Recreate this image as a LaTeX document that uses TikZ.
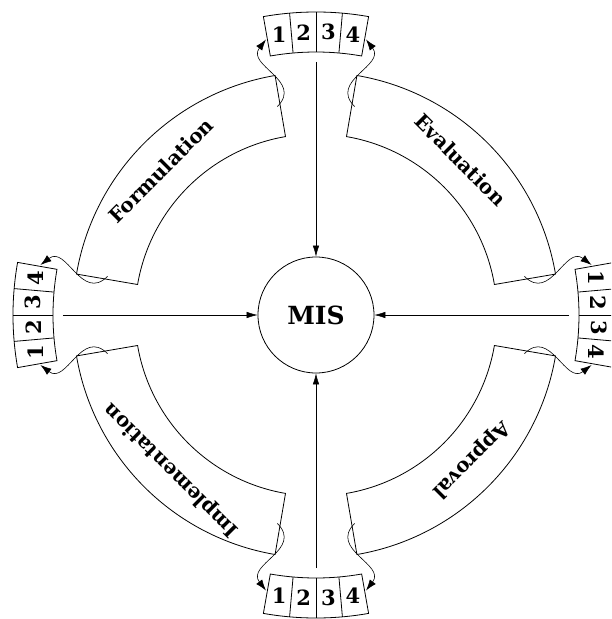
\documentclass[tikz,border=0pt]{standalone}
\usepackage{fontspec}
\setmainfont{DejaVu Serif}
\usetikzlibrary{arrows.meta}
\begin{document}
\begin{tikzpicture}[x=1pt,y=1pt,
  outline/.style={draw=black, line width=0.8pt},
  feed/.style={draw=black, line width=0.6pt, -{Latex[length=11pt,width=7.5pt]}},
  spoke/.style={draw=black, line width=0.5pt, -{Latex[length=11pt,width=6.5pt]}},
  digit/.style={font=\fontsize{21}{21}\selectfont\bfseries, inner sep=0pt},
  bandlabel/.style={font=\fontsize{20}{20}\selectfont\bfseries, inner sep=0pt},
]
\useasboundingbox (-316,-304) rectangle (295,315);
\clip (-316,-304) rectangle (295,315);

% centre
\node[circle, draw, line width=0.8pt, minimum size=116pt, inner sep=0pt,
      font=\fontsize{25}{25}\selectfont\bfseries] (mis) at (0,0) {MIS};

% bands
\foreach \a in {135,45,-45,-135} {
  \draw[outline] ({\a-35.3}:181pt) arc[start angle={\a-35.3}, end angle={\a+35.3}, radius=181pt]
     -- ({\a+35.3}:243pt) arc[start angle={\a+35.3}, end angle={\a-35.3}, radius=243pt] -- cycle;
}
\node[bandlabel, rotate=45]   (form) at (137:212pt) {Formulation};
\node[bandlabel, rotate=-45]  (eval) at (47:212pt) {Evaluation};
\node[bandlabel, rotate=-135] (appr) at (-43:212pt) {Approval};
\node[bandlabel, rotate=135]  (impl) at (-133:212pt) {Implementation};

% arms: boxes, spokes and feed arrows
\foreach \t/\n in {90/T,0/R,-90/B,180/L} {
  \begin{scope}[rotate=\t-90]
    \draw[outline] (80:263pt) arc[start angle=80, end angle=100, radius=263pt]
       -- (100:303pt) arc[start angle=100, end angle=80, radius=303pt] -- cycle;
    \foreach \s in {85,90,95} \draw[outline] (\s:263pt) -- (\s:303pt);
    \coordinate (\n-in) at (90:253pt);
    \coordinate (\n-s1) at (100.5:212pt);
    \coordinate (\n-e1) at (100.3:280pt);
    \coordinate (\n-s2) at (79.5:212pt);
    \coordinate (\n-e2) at (79.7:280pt);
    \draw[feed] (\n-s1) .. controls +(26,26) and +(-20,-26) .. (\n-e1);
    \draw[feed] (\n-s2) .. controls +(-26,26) and +(20,-26) .. (\n-e2);
  \end{scope}
  \draw[spoke] (\n-in) -- (mis);
}

% digits
\foreach \k in {1,...,4} {
  \node[digit] (T\k) at ({97.5-5*(\k-1)}:283pt) {\k};
  \node[digit, rotate=-90] (R\k) at ({7.5-5*(\k-1)}:283pt) {\k};
  \node[digit] (B\k) at ({-97.5+5*(\k-1)}:283pt) {\k};
  \node[digit, rotate=90] (L\k) at ({187.5-5*(\k-1)}:283pt) {\k};
}
\end{tikzpicture}
\end{document}
